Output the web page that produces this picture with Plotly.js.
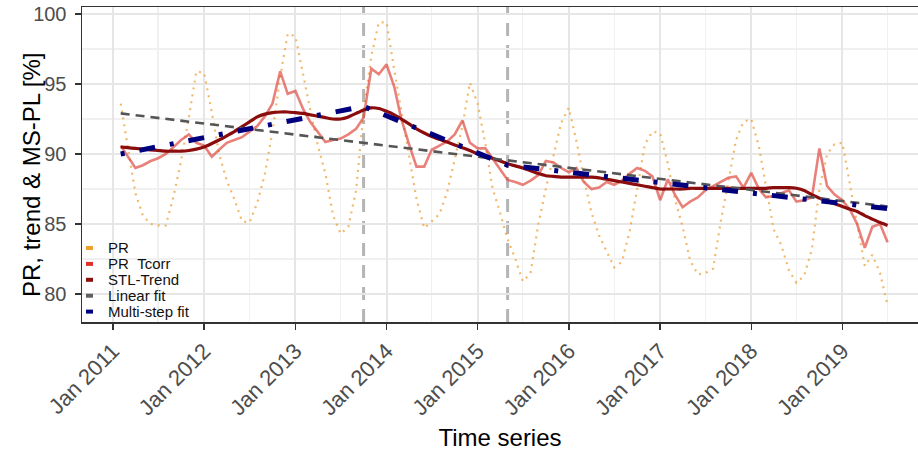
<!DOCTYPE html>
<html>
<head>
<meta charset="utf-8">
<script src="https://cdn.plot.ly/plotly-3.0.1.min.js"></script>
<style>html,body{margin:0;padding:0;background:#fff;}#chart{width:918px;height:452px;}</style>
</head>
<body>
<div id="chart"></div>
<script>
// ---- data (monthly, Feb 2011 .. Jul 2019) ----
const startYear = 2011, startMonth = 2, nMonths = 102;
const months = [];
for (let i = 0; i < nMonths; i++) {
  const d = new Date(Date.UTC(startYear, startMonth - 1 + i, 1));
  months.push(d.toISOString().slice(0, 10));
}

const prValues = [
  93.6, 90.6, 87.2, 85.6, 85.0, 84.9, 84.9, 87.0, 89.5, 92.6, 95.9,
  95.8, 93.0, 90.0, 88.1, 86.8, 85.2, 85.1, 86.5, 88.6, 91.6, 95.5, 98.6,
  98.4, 95.6, 93.2, 90.6, 88.6, 85.6, 84.3, 84.8, 87.4, 93.0, 97.0, 99.4,
  99.4, 96.0, 93.1, 89.6, 86.8, 84.7, 85.2, 85.7, 87.3, 89.6, 92.0, 95.1,
  93.6, 90.7, 87.6, 85.8, 83.9, 82.5, 80.9, 81.5, 85.0, 87.5, 89.8, 92.2,
  93.3, 90.9, 88.3, 85.8, 84.2, 83.0, 81.9, 82.3, 84.5, 87.5, 90.7, 91.6,
  91.5, 89.3, 86.8, 84.8, 82.4, 81.4, 81.5, 81.8, 85.2, 88.0, 91.0, 92.3,
  92.5, 90.5, 87.8, 84.6, 83.5, 81.7, 80.8, 81.3, 83.2, 87.5, 90.0, 90.7,
  90.8, 87.7, 84.8, 82.0, 82.8, 81.5, 79.2
];

const prTcorrValues = [
  90.6, 89.8, 89.0, 89.2, 89.5, 89.7, 90.0, 90.5, 91.0, 91.4, 90.8,
  90.6, 89.8, 90.3, 90.8, 91.0, 91.2, 91.6, 92.0, 92.7, 93.6, 95.9, 94.3,
  94.5, 93.2, 92.3, 91.6, 90.85, 91.0, 91.1, 91.4, 91.8, 92.6, 96.1, 95.7,
  96.4, 94.8, 92.5, 90.7, 89.1, 89.1, 90.3, 90.6, 90.9, 91.4, 92.4, 90.8,
  90.4, 90.4, 89.7, 88.9, 88.15, 88.0, 87.8, 88.1, 88.5, 89.5, 89.4, 89.0,
  88.7, 89.0, 88.0, 87.5, 87.6, 88.0, 87.8, 88.1, 88.6, 89.0, 88.8, 88.4,
  86.7, 88.2, 87.1, 86.2, 86.6, 86.9, 87.4, 87.7, 88.0, 88.3, 88.4, 87.6,
  88.65, 87.5, 86.9, 87.0, 87.2, 87.4, 86.6, 86.7, 86.9, 90.4, 87.7, 87.1,
  86.7, 86.0, 85.0, 83.3, 84.8, 85.0, 83.7
];

const stlTrendValues = [
  90.5, 90.45, 90.4, 90.35, 90.3, 90.25, 90.2, 90.2, 90.2, 90.25, 90.35,
  90.5, 90.75, 91.0, 91.3, 91.6, 91.95, 92.3, 92.65, 92.85, 92.95, 93.0, 93.0,
  92.95, 92.9, 92.8, 92.7, 92.6, 92.5, 92.5, 92.65, 92.9, 93.15, 93.3, 93.25,
  93.05, 92.8, 92.5, 92.15, 91.8, 91.5, 91.25, 91.05, 90.85, 90.65, 90.45, 90.25,
  90.0, 89.85, 89.7, 89.5, 89.3, 89.15, 89.0, 88.8, 88.6, 88.45, 88.4, 88.35,
  88.35, 88.35, 88.35, 88.35, 88.3, 88.2, 88.1, 88.0, 87.9, 87.8, 87.7, 87.6,
  87.5, 87.5, 87.5, 87.5, 87.55, 87.55, 87.55, 87.55, 87.55, 87.55, 87.55, 87.55,
  87.55, 87.55, 87.55, 87.6, 87.6, 87.6, 87.55, 87.4, 87.1, 86.85, 86.6, 86.45,
  86.25, 86.05, 85.9, 85.6, 85.35, 85.1, 84.9
];

const linearDates = ['2011-02-01', '2019-07-01'];
const linearValues = [92.9, 86.25];

const multiStepDates = ['2011-02-01', '2013-10-01', '2015-05-01', '2019-07-01'];
const multiStepValues = [90.0, 93.4, 89.2, 86.1];

const breakDates = ['2013-10-01', '2015-05-01'];

const legendLabels = ['PR', 'PR\u00a0\u00a0Tcorr', 'STL-Trend', 'Linear fit', 'Multi-step fit'];
const legendColors = ['#f0a030', '#e0302a', '#8b1010', '#606060', '#00007f'];

const yTicks = [80, 85, 90, 95, 100];
const yTitle = 'PR, trend &amp; MS-PL [%]';
const xTitle = 'Time series';

// ---- traces ----
const traces = [
  { x: months, y: prValues, type: 'scatter', mode: 'lines', name: 'PR',
    line: { color: 'rgba(238,160,60,0.75)', width: 2.2, dash: '2px,5px' } },
  { x: months, y: prTcorrValues, type: 'scatter', mode: 'lines', name: 'PR Tcorr',
    line: { color: 'rgba(222,70,60,0.68)', width: 2.6 } },
  { x: months, y: stlTrendValues, type: 'scatter', mode: 'lines', name: 'STL-Trend',
    line: { color: '#8b0c0c', width: 3.2, shape: 'spline', smoothing: 0.6 } },
  { x: linearDates, y: linearValues, type: 'scatter', mode: 'lines', name: 'Linear fit',
    line: { color: '#555555', width: 2.6, dash: '9px,6px' } },
  { x: multiStepDates, y: multiStepValues, type: 'scatter', mode: 'lines', name: 'Multi-step fit',
    line: { color: '#00007f', width: 5, dash: '4px,15px,16px,15px' } }
];

// ---- layout helpers (pixel -> paper) ----
const plotL = 82, plotT = 7, plotW = 836, plotH = 315;
const px = v => (v - plotL) / plotW;
const py = v => (plotT + plotH - v) / plotH;

const shapes = [];
breakDates.forEach(d => shapes.push({
  type: 'line', xref: 'x', yref: 'paper', x0: d, x1: d, y0: 0, y1: 1,
  layer: 'between', line: { color: '#b5b5b5', width: 3, dash: '13px,9px' }
}));
// legend background
shapes.push({ type: 'rect', xref: 'paper', yref: 'paper', x0: px(83), x1: px(199), y0: py(321), y1: py(237),
  fillcolor: '#ffffff', line: { width: 0 }, layer: 'between' });

const annotations = [];
const legTop = 248, legStep = 15.9;
legendLabels.forEach((lab, i) => {
  const yc = legTop + i * legStep;
  shapes.push({ type: 'rect', xref: 'paper', yref: 'paper', x0: px(86), x1: px(93),
    y0: py(yc + 2), y1: py(yc - 2), fillcolor: legendColors[i], line: { width: 0 }, layer: 'above' });
  annotations.push({ xref: 'paper', yref: 'paper', x: px(106), y: py(yc), xanchor: 'left', yanchor: 'middle',
    text: lab, showarrow: false, font: { size: 15, color: '#111111', family: 'Liberation Sans, Arial, sans-serif' } });
});
// y axis title (placed as rotated text to sit close to the tick labels)
annotations.push({ xref: 'paper', yref: 'paper', x: px(31), y: py(175), xanchor: 'center', yanchor: 'middle',
  textangle: -90, text: yTitle, showarrow: false,
  font: { size: 24, color: '#000000', family: 'Liberation Sans, Arial, sans-serif' } });

const layout = {
  width: 918, height: 452,
  margin: { l: plotL, r: 0, t: plotT, b: 452 - plotT - plotH, pad: 0 },
  paper_bgcolor: '#ffffff', plot_bgcolor: '#ffffff',
  showlegend: false,
  font: { family: 'Liberation Sans, Arial, sans-serif', color: '#4d4d4d' },
  xaxis: {
    type: 'date', range: ['2010-08-30', '2019-10-31'],
    tick0: '2011-01-01', dtick: 'M12', tickformat: '%b %Y', tickangle: -45,
    ticks: 'outside', ticklen: 6, tickwidth: 1.5, tickcolor: '#333333',
    showline: true, linecolor: '#333333', linewidth: 1.5, mirror: true,
    showgrid: true, gridcolor: '#e6e6e6', gridwidth: 2,
    minor: { dtick: 'M6', tick0: '2011-01-01', showgrid: true, gridcolor: '#f0f0f0', gridwidth: 1.3 },
    zeroline: false, automargin: false,
    tickfont: { size: 22, color: '#4d4d4d' },
    title: { text: xTitle, font: { size: 24, color: '#000000' }, standoff: 10 }
  },
  yaxis: {
    range: [78.0, 100.5], tickvals: yTicks,
    ticks: 'outside', ticklen: 6, tickwidth: 1.5, tickcolor: '#333333', ticklabelstandoff: 4,
    showline: true, linecolor: '#333333', linewidth: 1.5, mirror: false,
    showgrid: true, gridcolor: '#e6e6e6', gridwidth: 2,
    minor: { dtick: 2.5, tick0: 80, showgrid: true, gridcolor: '#f0f0f0', gridwidth: 1.3 },
    zeroline: false, automargin: false,
    tickfont: { size: 20, color: '#4d4d4d' },
    title: { text: '' }
  },
  shapes: shapes,
  annotations: annotations
};

Plotly.newPlot('chart', traces, layout, { displayModeBar: false, staticPlot: true });
</script>
</body>
</html>
